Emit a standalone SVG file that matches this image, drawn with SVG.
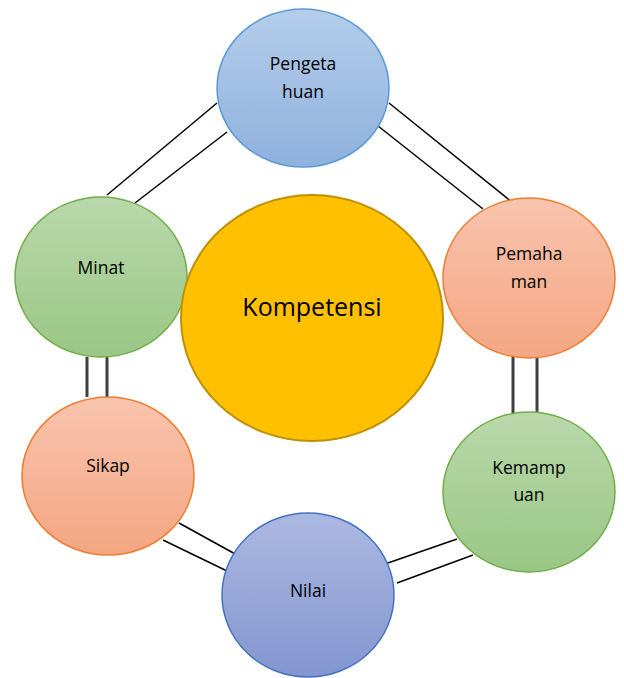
<svg xmlns="http://www.w3.org/2000/svg" width="624" height="678" viewBox="0 0 624 678">
<defs>
<linearGradient id="gBlue" x1="0" y1="0" x2="0" y2="1"><stop offset="0" stop-color="#b4cdea"/><stop offset="1" stop-color="#8fb1de"/></linearGradient>
<linearGradient id="gOrange" x1="0" y1="0" x2="0" y2="1"><stop offset="0" stop-color="#f8c4ae"/><stop offset="1" stop-color="#f4a682"/></linearGradient>
<linearGradient id="gGreen" x1="0" y1="0" x2="0" y2="1"><stop offset="0" stop-color="#b9d8ab"/><stop offset="1" stop-color="#9ac785"/></linearGradient>
<linearGradient id="gNavy" x1="0" y1="0" x2="0" y2="1"><stop offset="0" stop-color="#abb8e1"/><stop offset="1" stop-color="#8396cf"/></linearGradient>
</defs>
<style>
.lbl{font-family:"Open Sans","Noto Sans","Liberation Sans",sans-serif;font-size:17.5px;fill:#000;text-anchor:middle}
.big{font-family:"Open Sans","Noto Sans","Liberation Sans",sans-serif;font-size:25px;fill:#000;text-anchor:middle}
.conn line{stroke:#000;stroke-width:1.5}
.vert line{stroke:#404040;stroke-width:3}
</style>
<rect width="624" height="678" fill="#fff"/>
<g id="connectors" class="conn">
<line x1="217" y1="103" x2="107" y2="195"/>
<line x1="227" y1="132" x2="135" y2="203"/>
<line x1="389" y1="103" x2="513" y2="203"/>
<line x1="373" y1="122" x2="483" y2="209"/>
<line x1="179" y1="523" x2="237" y2="555"/>
<line x1="163" y1="540" x2="227" y2="571"/>
<line x1="385" y1="564" x2="457" y2="539"/>
<line x1="397" y1="583" x2="473" y2="555"/>
<g class="vert">
<line x1="87" y1="357" x2="87" y2="397"/>
<line x1="107" y1="357" x2="107" y2="397"/>
<line x1="513" y1="357" x2="513" y2="413"/>
<line x1="537" y1="357" x2="537" y2="413"/>
</g>
</g>
<g id="pengetahuan">
<ellipse cx="303" cy="88" rx="86" ry="79" fill="url(#gBlue)" stroke="#5b9bd5" stroke-width="1.5"/>
<text class="lbl" x="303" y="70">Pengeta</text>
<text class="lbl" x="303" y="98">huan</text>
</g>
<g id="minat">
<ellipse cx="101" cy="277" rx="86" ry="80" fill="url(#gGreen)" stroke="#70ad47" stroke-width="1.5"/>
<text class="lbl" x="101" y="274">Minat</text>
</g>
<g id="pemahaman">
<ellipse cx="529" cy="278" rx="86" ry="80" fill="url(#gOrange)" stroke="#ed7d31" stroke-width="1.5"/>
<text class="lbl" x="529" y="260">Pemaha</text>
<text class="lbl" x="529" y="288">man</text>
</g>
<g id="kompetensi">
<ellipse cx="312" cy="318" rx="131" ry="123" fill="#ffc000" stroke="#bf9000" stroke-width="2"/>
<text class="big" x="312" y="316">Kompetensi</text>
</g>
<g id="sikap">
<ellipse cx="108" cy="476" rx="86" ry="79" fill="url(#gOrange)" stroke="#ed7d31" stroke-width="1.5"/>
<text class="lbl" x="108" y="472">Sikap</text>
</g>
<g id="kemampuan">
<ellipse cx="529" cy="492" rx="86" ry="80" fill="url(#gGreen)" stroke="#70ad47" stroke-width="1.5"/>
<text class="lbl" x="529" y="474">Kemamp</text>
<text class="lbl" x="529" y="501">uan</text>
</g>
<g id="nilai">
<ellipse cx="308" cy="595" rx="86" ry="82" fill="url(#gNavy)" stroke="#4472c4" stroke-width="1.5"/>
<text class="lbl" x="308" y="597">Nilai</text>
</g>
</svg>
